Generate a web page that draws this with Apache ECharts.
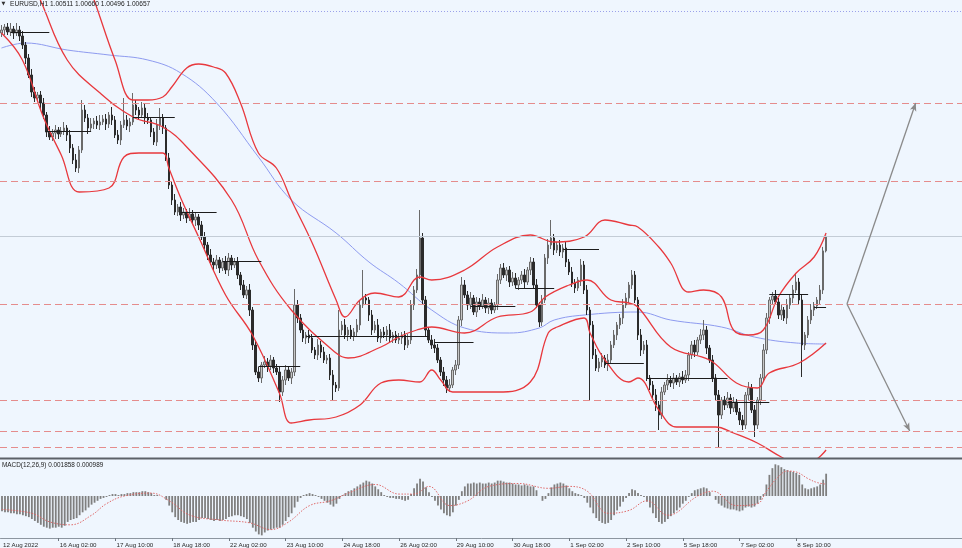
<!DOCTYPE html>
<html><head><meta charset="utf-8">
<script src="https://cdn.jsdelivr.net/npm/echarts@6/dist/echarts.min.js"></script>
<style>html,body{margin:0;padding:0;background:#eff6fe}#c{width:962px;height:548px}</style>
</head><body><div id="c"></div>
<script>
// ---------- data ----------
const xLabels = ['12 Aug 2022','16 Aug 02:00','17 Aug 10:00','18 Aug 18:00','22 Aug 02:00','23 Aug 10:00','24 Aug 18:00','26 Aug 02:00','29 Aug 10:00','30 Aug 18:00','1 Sep 02:00','2 Sep 10:00','5 Sep 18:00','7 Sep 02:00','8 Sep 10:00'];
const firstOpen = 1.0269;
const closes = [
1.0272,1.0275,1.0270,1.0273,1.0269,1.0272,1.0266,1.0257,1.0244,1.0227,1.0210,1.0204,1.0207,1.0199,1.0187,1.0170,1.0165,1.0169,1.0172,1.0168,
1.0171,1.0174,1.0167,1.0154,1.0142,1.0134,1.0152,1.0192,1.0184,1.0174,1.0178,1.0181,1.0177,1.0180,1.0183,1.0178,1.0187,1.0182,1.0167,1.0162,
1.0177,1.0182,1.0176,1.0180,1.0197,1.0192,1.0187,1.0194,1.0184,1.0182,1.0170,1.0160,1.0177,1.0184,1.0174,1.0144,1.0117,1.0102,1.0090,1.0095,
1.0087,1.0090,1.0084,1.0088,1.0082,1.0085,1.0077,1.0065,1.0057,1.0047,1.0040,1.0037,1.0042,1.0034,1.0040,1.0032,1.0044,1.0037,1.0040,1.0027,
1.0017,1.0007,1.0012,0.9992,0.9957,0.9930,0.9924,0.9937,0.9940,0.9936,0.9942,0.9934,0.9930,0.9910,0.9922,0.9932,0.9924,0.9930,0.9997,0.9984,
0.9972,0.9964,0.9967,0.9964,0.9952,0.9947,0.9957,0.9950,0.9942,0.9944,0.9927,0.9917,0.9914,0.9972,0.9977,0.9967,0.9972,0.9966,0.9970,0.9977,
0.9997,1.0004,1.0002,0.9987,0.9972,0.9977,0.9964,0.9970,0.9967,0.9972,0.9964,0.9967,0.9962,0.9964,0.9967,0.9957,0.9962,0.9997,1.0012,1.0027,
1.0064,1.0002,0.9972,0.9962,0.9957,0.9954,0.9942,0.9930,0.9922,0.9914,0.9917,0.9932,0.9937,0.9982,1.0017,1.0007,0.9997,1.0004,0.9990,1.0000,
0.9996,1.0002,0.9994,0.9999,0.9992,0.9997,1.0022,1.0034,1.0027,1.0032,1.0020,1.0024,1.0017,1.0022,1.0027,1.0020,1.0032,1.0040,1.0017,0.9997,
0.9980,1.0002,1.0044,1.0057,1.0064,1.0052,1.0057,1.0050,1.0054,1.0040,1.0030,1.0019,1.0014,1.0022,1.0037,1.0012,0.9992,0.9977,0.9947,0.9934,
0.9940,0.9944,0.9937,0.9942,0.9957,0.9967,0.9977,0.9984,0.9997,1.0004,1.0017,1.0027,1.0002,0.9967,0.9952,0.9957,0.9924,0.9917,0.9907,0.9897,
0.9887,0.9910,0.9917,0.9922,0.9919,0.9924,0.9920,0.9925,0.9922,0.9927,0.9947,0.9957,0.9950,0.9962,0.9967,0.9972,0.9954,0.9942,0.9924,0.9907,
0.9887,0.9902,0.9897,0.9904,0.9894,0.9900,0.9890,0.9882,0.9877,0.9907,0.9914,0.9892,0.9877,0.9902,0.9924,0.9952,0.9984,1.0002,1.0006,1.0000,
0.9987,0.9992,0.9984,0.9997,1.0004,1.0012,1.0020,1.0002,0.9957,0.9967,0.9982,0.9992,0.9996,1.0002,1.0012,1.00511,1.00657];
// wick lengths in pips above / below the candle body
const wickUp = [
5,3,4,6,3,7,4,5,3,4,6,5,3,4,5,3,6,4,5,3,
4,6,3,5,4,6,4,10,5,4,6,3,5,7,4,5,3,8,4,5,
4,22,5,4,12,5,3,6,4,5,3,4,6,10,4,3,5,4,6,3,
5,4,3,6,4,5,3,4,5,3,6,4,5,3,4,6,5,3,4,5,
3,5,4,6,3,4,5,3,6,4,5,3,4,6,4,5,3,4,16,5,
4,6,3,5,4,3,6,4,5,3,4,5,3,20,4,6,3,5,4,6,
5,28,4,3,5,4,6,3,5,4,6,3,4,5,3,4,6,5,4,6,
28,5,4,3,5,6,4,3,5,4,6,3,5,4,8,5,4,6,3,5,
4,6,3,5,4,3,6,4,5,3,4,6,5,3,4,6,3,5,4,6,
3,5,4,6,18,4,3,5,4,6,3,5,4,3,6,4,5,3,4,6,
4,5,3,6,4,5,3,4,6,5,3,5,4,3,6,4,5,3,4,6,
4,5,3,6,4,5,3,4,6,5,3,4,5,3,6,10,4,3,5,4,
5,3,4,6,4,5,3,4,5,3,6,4,5,3,4,6,5,3,4,6,
4,5,3,6,4,5,9,4,5,3,4,6,4,3,5,4,0.3];
const wickDown = [
4,5,3,4,6,3,5,4,6,3,5,4,3,6,4,5,3,4,6,5,
3,4,6,5,4,4,5,3,4,6,3,5,4,5,3,6,4,5,3,4,
5,3,4,6,3,5,4,3,6,4,5,3,4,5,6,3,4,5,3,4,
6,4,5,3,4,6,5,3,4,5,3,6,4,5,3,4,6,5,3,4,
5,3,4,6,5,3,4,5,3,6,4,5,3,10,4,5,3,6,4,5,
3,4,6,5,3,4,5,6,3,4,5,15,4,3,5,4,6,3,5,4,
5,3,4,6,5,3,4,5,3,6,4,5,3,4,6,5,3,4,5,3,
4,5,6,3,4,5,3,4,6,5,4,3,5,4,6,3,5,4,3,5,
4,3,5,6,4,3,5,4,3,6,5,4,3,5,4,6,3,5,4,3,
5,4,3,6,4,5,3,4,6,5,3,4,5,3,6,4,5,75,4,3,
4,5,3,6,4,3,5,4,6,3,5,4,3,5,6,4,3,5,4,6,
15,4,3,5,4,6,3,5,4,3,6,4,5,3,4,5,6,3,4,5,
32,4,5,3,6,4,3,5,5,4,6,3,12,4,5,3,4,6,5,3,
4,5,3,6,4,5,3,4,32,5,3,4,6,3,5,4,1.5];
// Bollinger bands and moving average: [bar index, price]
const upperBand = [[20,1.0392],[31,1.0302],[38,1.0242],[44,1.0202],[49,1.0202],[54,1.0205],[57,1.0215],[62,1.0234],[66,1.0238],[71,1.0235],[75,1.0229],[80,1.0199],[86,1.0149],[92,1.0134],[97,1.0102],[104,1.0059],[112,1.0002],[115,0.9985],[120,1.0002],[125,1.0009],[133,1.0005],[140,1.0025],[144,1.0022],[155,1.0032],[166,1.0055],[177,1.0067],[185,1.0060],[195,1.0065],[202,1.0082],[210,1.0077],[213,1.0075],[220,1.0055],[224,1.0039],[230,1.0010],[235,1.0012],[241,1.0005],[245,0.9972],[250,0.9967],[255,0.9972],[260,1.0005],[266,1.0029],[272,1.0045],[276,1.0069]];
const middleBand = [[3,1.0368],[13,1.0302],[22,1.0242],[33,1.0209],[44,1.0185],[54,1.0175],[62,1.0155],[77,1.0102],[86,1.0042],[97,0.9992],[112,0.9949],[116,0.9944],[127,0.9955],[133,0.9965],[139,0.9972],[144,0.9975],[155,0.9969],[166,0.9985],[177,0.9990],[182,1.0005],[190,1.0017],[196,1.0022],[204,1.0002],[210,0.9999],[213,0.9995],[224,0.9955],[237,0.9942],[246,0.9919],[253,0.9914],[257,0.9929],[267,0.9939],[276,0.9959]];
const lowerBand = [[0,1.0269],[7,1.0242],[14,1.0185],[20,1.0147],[26,1.0110],[36,1.0114],[41,1.0145],[46,1.0149],[54,1.0149],[56,1.0134],[60,1.0104],[66,1.0065],[75,1.0007],[84,0.9967],[93,0.9909],[97,0.9879],[103,0.9882],[112,0.9885],[120,0.9897],[127,0.9919],[133,0.9922],[140,0.9920],[144,0.9932],[147,0.9922],[151,0.9910],[166,0.9910],[177,0.9920],[183,0.9969],[186,0.9975],[195,0.9984],[197,0.9969],[202,0.9942],[210,0.9920],[213,0.9924],[220,0.9892],[226,0.9875],[239,0.9875],[245,0.9869],[253,0.9859],[261,0.9845],[266,0.9839],[271,0.9840],[276,0.9852]];
const movingAvg = [[0,1.0254],[8,1.0259],[22,1.0252],[36,1.0247],[49,1.0242],[60,1.0229],[72,1.0199],[86,1.0145],[97,1.0102],[112,1.0069],[123,1.0040],[133,1.0019],[144,0.9992],[155,0.9974],[170,0.9969],[180,0.9974],[185,0.9982],[195,0.9987],[213,0.9990],[224,0.9982],[241,0.9975],[252,0.9965],[266,0.9959],[276,0.9958]];
// MACD(12,26,9)
const macdMain = [
-0.00128,-0.00136,-0.00136,-0.00144,-0.00144,-0.00152,-0.00152,-0.0016,-0.00168,-0.00176,-0.00192,-0.00208,-0.00224,-0.0024,-0.00256,-0.00264,-0.00272,-0.00264,-0.00264,-0.00256,
-0.00264,-0.00248,-0.00216,-0.002,-0.00192,-0.00184,-0.0016,-0.00136,-0.0012,-0.00096,-0.00072,-0.00056,-0.0004,-0.00024,-0.00016,-0.00008,0.00008,0.00016,0.00016,0.00008,
0.00016,0.00016,0.00024,0.00024,0.00032,0.00032,0.00032,0.0004,0.0004,0.00032,0.00024,0.00008,0.00008,0,0,-0.00032,-0.0008,-0.00136,-0.00176,-0.002,
-0.00216,-0.00224,-0.00232,-0.00224,-0.00216,-0.00216,-0.002,-0.00184,-0.00184,-0.00192,-0.002,-0.00208,-0.002,-0.00208,-0.002,-0.00192,-0.00176,-0.00168,-0.0016,-0.0016,
-0.00168,-0.00176,-0.00192,-0.00224,-0.00264,-0.00296,-0.0032,-0.00328,-0.00304,-0.00288,-0.0028,-0.00272,-0.00264,-0.00264,-0.0024,-0.00208,-0.00176,-0.00144,-0.00096,-0.00048,
-0.00016,0.00008,0.00016,0.00024,0.00016,0.00008,-0.00008,-0.00024,-0.0004,-0.00056,-0.00072,-0.00088,-0.00064,-0.00024,0.00008,0.00024,0.0004,0.00048,0.00064,0.0008,
0.00096,0.00112,0.00128,0.0012,0.00104,0.0008,0.00056,0.00032,0.00008,-0.00008,-0.00016,-0.00016,-0.00024,-0.00024,-0.00032,-0.0004,-0.00032,0.00016,0.00064,0.00104,
0.00144,0.0012,0.00072,0.00032,-0.00008,-0.0004,-0.0008,-0.00112,-0.00144,-0.0016,-0.00168,-0.00136,-0.0008,-0.00032,0.0004,0.0008,0.00104,0.00104,0.00112,0.00104,
0.00112,0.00104,0.00104,0.00112,0.00104,0.00112,0.00128,0.00128,0.0012,0.00112,0.00112,0.00104,0.00096,0.00096,0.00088,0.00096,0.00088,0.0008,0.0008,0.00048,
0,-0.0004,-0.00024,0.00024,0.00072,0.00096,0.00104,0.00112,0.00104,0.00088,0.00064,0.0004,0.00024,0.00016,0.00008,-0.00016,-0.00056,-0.00096,-0.00144,-0.00184,
-0.00208,-0.00224,-0.00232,-0.00224,-0.002,-0.0016,-0.0012,-0.00088,-0.00048,-0.00016,0.00024,0.00056,0.00048,0.00024,0.00008,-0.00008,-0.00048,-0.00096,-0.00144,-0.00184,
-0.00216,-0.00232,-0.00216,-0.00192,-0.00168,-0.00144,-0.0012,-0.00096,-0.00064,-0.0004,-0.00008,0.00024,0.00048,0.00056,0.00064,0.00072,0.00064,0.00032,0,-0.00032,
-0.00064,-0.0008,-0.00096,-0.00104,-0.00112,-0.00112,-0.0012,-0.00128,-0.0012,-0.00096,-0.00088,-0.00096,-0.00088,-0.00064,-0.00032,0.00016,0.00096,0.00176,0.00232,0.00264,
0.00256,0.0024,0.00224,0.00216,0.00208,0.002,0.00192,0.00176,0.00096,0.00064,0.00056,0.00064,0.00072,0.0008,0.00096,0.00136,0.001858];
const macdSignal = [[0,-0.00112],[10,-0.00144],[16,-0.00216],[23,-0.0024],[30,-0.0016],[35,-0.00064],[41,0],[50,0.00024],[56,-0.0004],[63,-0.0016],[73,-0.002],[83,-0.00224],[90,-0.0028],[96,-0.00216],[103,-0.0008],[110,-0.0004],[116,0.00024],[125,0.00096],[133,0.00016],[138,0.00016],[143,0.0008],[150,-0.0008],[156,-0.0004],[163,0.0008],[173,0.00104],[183,0.00064],[190,0.0008],[196,0.0004],[203,-0.00144],[210,-0.0012],[216,-0.0004],[223,-0.0016],[233,0],[238,0.0004],[246,-0.0008],[253,-0.00064],[256,0.0004],[260,0.0016],[263,0.00208],[266,0.002],[270,0.00144],[273,0.00112],[276,0.000989]];
// drawn objects
const levels = [1.0199, 1.0121, 0.9998, 0.9902, 0.9871, 0.9855];
const bidPrice = 1.00657;
const topLevel = 1.0291;
const dayOpens = [[3,16,1.0270],[15,30,1.0171],[44,58,1.0185],[60,72,1.0090],[74,87,1.0041],[86,100,0.9936],[102,143,0.9966],[145,158,0.9960],[157,172,0.9996],[172,185,1.0014],[188,200,1.0053],[202,215,0.9939],[216,243,0.9924],[243,257,0.9900],[257,270,1.0008],[272,276,0.9995]];
const arrowFrom = [283, 0.9998];
const arrowTargets = [[306, 1.0199], [304, 0.9871]];

// ---------- build ----------
const N = 322;
const cats = Array.from({length: N}, (_, i) => String(i));
const candles = closes.map((c, i) => {
  const o = i ? closes[i - 1] : firstOpen;
  return [o, c, Math.min(o, c) - wickDown[i] / 10000, Math.max(o, c) + wickUp[i] / 10000];
});
const levelLines = levels.map(v => ({yAxis: v, lineStyle: {color: '#e58c8c', type: [7, 4], width: 1}}));
levelLines.push({yAxis: bidPrice, lineStyle: {color: '#c3ccd6', type: 'solid', width: 1}});
levelLines.push({yAxis: topLevel, lineStyle: {color: '#9ba1ea', type: [1, 2], width: 1}});
const segLines = dayOpens.map(([a, b, p]) => [
  {coord: [a, p], lineStyle: {color: '#1c1c1c', type: 'solid', width: 1}},
  {coord: [b, p], lineStyle: {color: '#1c1c1c', type: 'solid', width: 1}}]);
arrowTargets.forEach(([i, p]) => segLines.push([
  {coord: arrowFrom, symbol: 'none', lineStyle: {color: '#8a8a8a', type: 'solid', width: 1.3}},
  {coord: [i, p], symbol: 'arrow', symbolSize: [5, 8], itemStyle: {color: '#8a8a8a'}, lineStyle: {color: '#8a8a8a', type: 'solid', width: 1.3}}]));

const showTick = (idx) => idx % 19 === 0 && idx <= 266;
const chart = echarts.init(document.getElementById('c'), null, {renderer: 'canvas'});
chart.setOption({
  animation: false,
  backgroundColor: '#eff6fe',
  grid: [{left: 0, right: 0, top: 0, height: 458}, {left: 0, right: 0, top: 460, height: 81}],
  xAxis: [
    {type: 'category', gridIndex: 0, data: cats, boundaryGap: true, show: false},
    {type: 'category', gridIndex: 1, data: cats, boundaryGap: true,
     axisLine: {show: true, onZero: false, lineStyle: {color: '#8d96a0', width: 1}},
     axisTick: {show: true, alignWithLabel: true, length: 3, interval: (i) => showTick(i) && i > 0, lineStyle: {color: '#6f7780'}},
     axisLabel: {show: true, interval: (i) => showTick(i), align: 'left', margin: 4, fontSize: 6.2,
       fontFamily: 'Liberation Sans', color: '#2a2a2a', padding: [0, 0, 0, 1],
       formatter: (v, idx) => xLabels[idx / 19] || ''},
     splitLine: {show: false}}
  ],
  yAxis: [
    {type: 'value', gridIndex: 0, min: 0.9844, max: 1.0302, show: false, splitLine: {show: false}},
    {type: 'value', gridIndex: 1, min: -0.0035, max: 0.0030, show: false, splitLine: {show: false}}
  ],
  graphic: [
    {type: 'rect', shape: {x: 0, y: 457.5, width: 962, height: 2}, style: {fill: '#5c6168'}, z: 10},
    {type: 'text', x: 1.5, y: 1, style: {text: '▼', fontSize: 5, fontFamily: 'DejaVu Sans', fill: '#333'}, z: 10},
    {type: 'text', x: 10, y: 0.5, style: {text: 'EURUSD,H1 1.00511 1.00660 1.00496 1.00657', fontSize: 6.6, fontFamily: 'Liberation Sans', fill: '#222'}, z: 10},
    {type: 'text', x: 2, y: 462, style: {text: 'MACD(12,26,9) 0.001858 0.000989', fontSize: 6.4, fontFamily: 'Liberation Sans', fill: '#222'}, z: 10}
  ],
  series: [
    {type: 'line', xAxisIndex: 0, yAxisIndex: 0, data: movingAvg, smooth: 0.4, showSymbol: false, z: 2,
     lineStyle: {color: '#8e9bf0', width: 1},
     markLine: {silent: true, precision: 6, symbol: ['none', 'none'], label: {show: false}, data: levelLines}},
    {type: 'candlestick', xAxisIndex: 0, yAxisIndex: 0, data: candles, barWidth: 2, z: 3,
     itemStyle: {color: '#c6c6c6', color0: '#2b2b2b', borderColor: '#6a6a6a', borderColor0: '#2b2b2b', borderWidth: 1},
     markLine: {silent: true, precision: 6, symbol: ['none', 'none'], label: {show: false}, data: segLines}},
    {type: 'line', xAxisIndex: 0, yAxisIndex: 0, data: upperBand, smooth: 0.4, showSymbol: false, z: 4, lineStyle: {color: '#e8383d', width: 1.3}},
    {type: 'line', xAxisIndex: 0, yAxisIndex: 0, data: middleBand, smooth: 0.4, showSymbol: false, z: 4, lineStyle: {color: '#e8383d', width: 1.3}},
    {type: 'line', xAxisIndex: 0, yAxisIndex: 0, data: lowerBand, smooth: 0.4, showSymbol: false, z: 4, lineStyle: {color: '#e8383d', width: 1.3}},
    {type: 'bar', xAxisIndex: 1, yAxisIndex: 1, data: macdMain, barWidth: 1.8, itemStyle: {color: '#7f7f7f'}},
    {type: 'line', xAxisIndex: 1, yAxisIndex: 1, data: macdSignal, smooth: 0.4, showSymbol: false,
     lineStyle: {color: '#e06a6a', width: 1, type: [1.5, 1.5]}}
  ]
});
</script></body></html>
